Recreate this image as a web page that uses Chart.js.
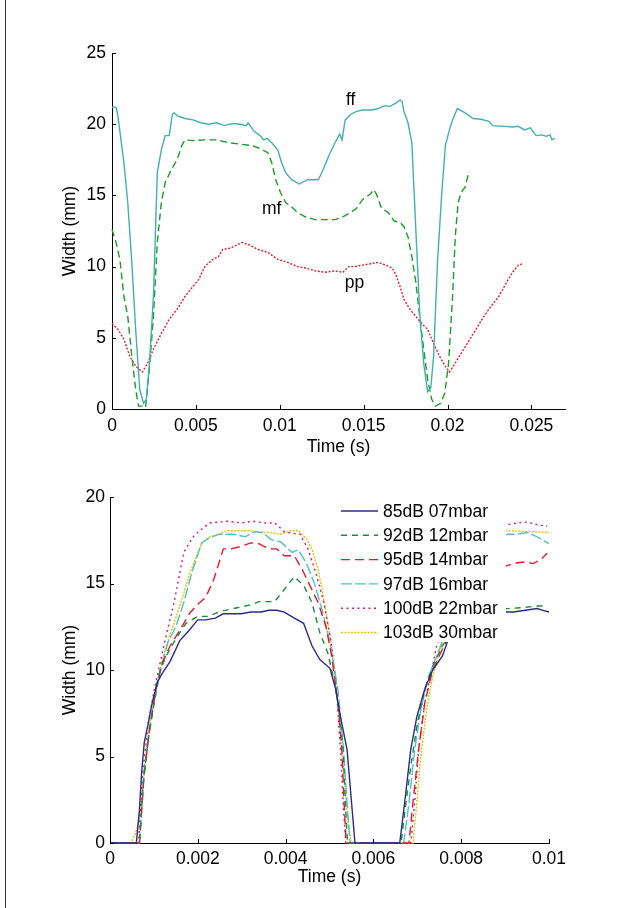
<!DOCTYPE html>
<html>
<head>
<meta charset="utf-8">
<script src="https://cdn.jsdelivr.net/npm/chart.js@4.4.1/dist/chart.umd.min.js"></script>
<style>
  html, body { margin: 0; padding: 0; background: #fff; }
  #page { position: relative; width: 619px; height: 908px; overflow: hidden; background: #fff; }
  #edge { position: absolute; left: 5px; top: 0; width: 1px; height: 908px; background: #333; }
  #topChart { position: absolute; left: 0; top: 0; }
  #bottomChart { position: absolute; left: 0; top: 460px; }
</style>
</head>
<body>
<div id="page">
  <div id="edge"></div>
  <canvas id="topChart" width="619" height="460"></canvas>
  <canvas id="bottomChart" width="619" height="448"></canvas>
</div>
<script>
// ---- top chart: [time (s), width (mm)] ----
const ffData = [[0,21.2],[0.00024,21.2],[0.00035,20.6],[0.00071,17.3],[0.00094,14.5],[0.00118,10.3],[0.00141,5.6],[0.00165,1.4],[0.00188,0.4],[0.00205,0.7],[0.00223,3.2],[0.00247,7.9],[0.00270,16.6],[0.00294,18.2],[0.00317,19.2],[0.00341,19.2],[0.00360,20.7],[0.00372,20.8],[0.00388,20.6],[0.00435,20.4],[0.00482,20.3],[0.00529,20.1],[0.00576,20.0],[0.00623,20.1],[0.00670,19.9],[0.00717,20.05],[0.00764,20.0],[0.00800,19.9],[0.00811,20.1],[0.00847,19.5],[0.00882,19.2],[0.00905,18.9],[0.00924,19.0],[0.00952,18.7],[0.00988,18.2],[0.01011,17.3],[0.01035,16.6],[0.01070,16.1],[0.01117,15.8],[0.01164,16.1],[0.01230,16.1],[0.01258,16.8],[0.01293,17.8],[0.01329,18.7],[0.01357,19.3],[0.01371,18.9],[0.01390,20.3],[0.01423,20.7],[0.01458,20.9],[0.01493,21.0],[0.01552,21.0],[0.01587,21.1],[0.01623,21.3],[0.01658,21.25],[0.01693,21.5],[0.01717,21.7],[0.01729,21.6],[0.01740,20.9],[0.01764,20.1],[0.01787,18.7],[0.01811,12.6],[0.01834,6.7],[0.01858,3.2],[0.01881,1.2],[0.01900,1.5],[0.01917,3.7],[0.01940,10.3],[0.01964,14.9],[0.01987,18.5],[0.02011,19.6],[0.02030,20.3],[0.02058,21.1],[0.02105,20.8],[0.02152,20.4],[0.02199,20.35],[0.02246,20.2],[0.02269,19.9],[0.02340,19.85],[0.02387,19.8],[0.02422,19.85],[0.02458,19.6],[0.02493,19.75],[0.02528,19.2],[0.02563,19.25],[0.02587,19.15],[0.02611,19.25],[0.02622,18.9],[0.02639,19.0]];
const mfData = [[0,12.6],[0.00024,11.7],[0.00047,10.5],[0.00071,7.9],[0.00094,6.5],[0.00118,3.7],[0.00141,1.4],[0.00158,0.2],[0.00181,0.2],[0.00200,0.1],[0.00219,2.3],[0.00247,6.5],[0.00270,11.7],[0.00294,14.5],[0.00317,15.9],[0.00353,16.8],[0.00388,17.5],[0.00416,18.5],[0.00435,18.9],[0.00482,18.85],[0.00553,18.9],[0.00623,18.9],[0.00694,18.7],[0.00764,18.6],[0.00835,18.5],[0.00882,18.3],[0.00929,18.0],[0.00952,17.3],[0.00976,16.1],[0.01004,15.2],[0.01035,14.5],[0.01070,14.2],[0.01105,13.8],[0.01152,13.5],[0.01211,13.3],[0.01282,13.3],[0.01329,13.3],[0.01376,13.5],[0.01423,13.8],[0.01458,14.1],[0.01493,14.7],[0.01540,15.1],[0.01559,15.4],[0.01576,15.1],[0.01606,14.1],[0.01646,13.8],[0.01682,13.2],[0.01717,13.1],[0.01740,12.8],[0.01764,12.1],[0.01787,10.7],[0.01811,8.9],[0.01834,6.5],[0.01858,4.2],[0.01881,2.1],[0.01905,0.7],[0.01928,0.2],[0.01959,0.4],[0.01983,1.1],[0.02006,3.2],[0.02030,7.9],[0.02046,12.1],[0.02063,14.5],[0.02081,15.2],[0.02105,15.6],[0.02128,16.7]];
const ppData = [[0,6.0],[0.00035,5.6],[0.00071,4.9],[0.00106,3.7],[0.00141,3.0],[0.00181,2.6],[0.00212,3.2],[0.00247,4.2],[0.00294,5.3],[0.00341,6.3],[0.00388,7.0],[0.00435,7.9],[0.00482,8.6],[0.00517,9.1],[0.00553,10.0],[0.00600,10.5],[0.00635,10.7],[0.00659,11.2],[0.00706,11.3],[0.00741,11.5],[0.00776,11.7],[0.00823,11.5],[0.00870,11.2],[0.00929,11.0],[0.00988,10.5],[0.01047,10.3],[0.01105,10.0],[0.01152,9.9],[0.01211,9.7],[0.01270,9.6],[0.01329,9.7],[0.01376,9.6],[0.01411,10.0],[0.01446,10.0],[0.01493,10.1],[0.01540,10.2],[0.01587,10.3],[0.01634,10.1],[0.01670,9.9],[0.01693,9.4],[0.01717,8.6],[0.01740,7.7],[0.01776,7.0],[0.01811,6.5],[0.01846,6.0],[0.01881,5.6],[0.01917,4.6],[0.01952,3.7],[0.01987,3.0],[0.02011,2.6],[0.02034,3.0],[0.02070,3.7],[0.02117,4.6],[0.02164,5.5],[0.02211,6.4],[0.02258,7.2],[0.02305,7.9],[0.02352,8.9],[0.02387,9.6],[0.02422,10.1],[0.02446,10.2]];
const topTicksX = [0, 0.005, 0.01, 0.015, 0.02, 0.025];
const topTicksY = [0, 5, 10, 15, 20, 25];
const topLabels = [['ff', 0.01423, 21.7], ['mf', 0.00952, 14.0], ['pp', 0.01446, 8.85]];

// ---- bottom chart ----
const db85 = [[0,0],[0.00060,0],[0.00067,1.9],[0.00072,4.05],[0.00078,5.8],[0.00087,6.9],[0.00096,8.1],[0.00108,9.3],[0.00119,9.8],[0.00137,10.5],[0.00159,11.7],[0.00177,12.2],[0.00200,12.9],[0.00218,12.9],[0.00240,13.0],[0.00258,13.25],[0.00299,13.25],[0.00321,13.35],[0.00344,13.35],[0.00362,13.45],[0.00380,13.45],[0.00397,13.35],[0.00420,13.0],[0.00441,12.7],[0.00460,11.4],[0.00478,10.6],[0.00501,10.1],[0.00514,8.9],[0.00525,7.3],[0.00540,5.4],[0.00549,2.7],[0.00558,0],[0.00660,0],[0.00672,2.5],[0.00685,5.4],[0.00699,7.3],[0.00717,8.9],[0.00735,10.0],[0.00757,10.8],[0.00771,11.8],[0.00793,12.5],[0.00829,13.0],[0.00865,13.3],[0.00906,13.35],[0.00919,13.35],[0.00946,13.45],[0.00973,13.55],[0.00986,13.45],[0.01,13.35]];
const db92 = [[0,0],[0.00067,0],[0.00076,3.5],[0.00087,6.0],[0.00101,8.1],[0.00114,10.0],[0.00132,11.0],[0.00150,11.8],[0.00173,12.7],[0.00200,13.1],[0.00222,13.1],[0.00254,13.4],[0.00290,13.6],[0.00326,13.8],[0.00339,13.95],[0.00375,13.95],[0.00397,14.65],[0.00420,15.4],[0.00442,14.85],[0.00460,13.9],[0.00478,12.15],[0.00496,11.0],[0.00510,9.45],[0.00522,7.7],[0.00531,5.4],[0.00537,1.9],[0.00541,0],[0.00663,0],[0.00672,1.9],[0.00685,4.4],[0.00699,6.75],[0.00717,8.9],[0.00735,10.2],[0.00757,11.4],[0.00793,12.6],[0.00829,13.2],[0.00865,13.5],[0.00906,13.55],[0.00937,13.6],[0.00973,13.7],[0.00986,13.7]];
const db95 = [[0,0],[0.00067,0],[0.00078,4.05],[0.00092,6.9],[0.00105,8.9],[0.00119,10.4],[0.00137,11.4],[0.00159,12.3],[0.00182,13.3],[0.00200,13.8],[0.00218,14.2],[0.00236,15.2],[0.00258,17.0],[0.00276,17.0],[0.00299,17.15],[0.00321,17.35],[0.00339,17.3],[0.00362,17.0],[0.00380,17.0],[0.00397,16.6],[0.00420,16.6],[0.00438,15.8],[0.00456,14.85],[0.00474,13.9],[0.00492,12.5],[0.00505,10.8],[0.00519,8.1],[0.00528,5.4],[0.00534,1.9],[0.00538,0],[0.00681,0],[0.00690,2.3],[0.00703,5.4],[0.00717,8.1],[0.00735,10.0],[0.00757,11.2],[0.00793,13.0],[0.00829,14.5],[0.00865,15.6],[0.00906,16.05],[0.00928,16.2],[0.00946,16.25],[0.00964,16.15],[0.00982,16.4],[0.00996,16.75]];
const db97 = [[0,0],[0.00067,0],[0.00078,4.25],[0.00092,6.9],[0.00105,9.1],[0.00119,10.4],[0.00132,11.6],[0.00150,12.5],[0.00168,13.9],[0.00186,15.6],[0.00209,17.35],[0.00227,17.65],[0.00249,17.85],[0.00281,17.85],[0.00308,17.7],[0.00330,18.0],[0.00348,17.95],[0.00366,17.55],[0.00389,17.4],[0.00415,16.8],[0.00429,16.95],[0.00447,16.2],[0.00465,15.05],[0.00483,13.5],[0.00501,11.6],[0.00519,8.9],[0.00532,5.4],[0.00541,1.9],[0.00547,0],[0.00669,0],[0.00681,2.3],[0.00694,5.4],[0.00708,7.7],[0.00726,9.65],[0.00744,10.8],[0.00762,12.0],[0.00793,14.5],[0.00829,16.5],[0.00865,17.5],[0.00906,17.85],[0.00928,17.85],[0.00951,17.95],[0.00973,17.7],[0.01,17.3]];
const db100 = [[0,0],[0.00065,0],[0.00074,3.9],[0.00087,6.9],[0.00101,8.9],[0.00114,10.4],[0.00128,12.0],[0.00146,13.9],[0.00168,16.8],[0.00191,17.75],[0.00209,18.15],[0.00227,18.5],[0.00267,18.6],[0.00299,18.5],[0.00326,18.6],[0.00353,18.5],[0.00375,18.5],[0.00397,18.0],[0.00415,17.9],[0.00433,17.85],[0.00451,17.0],[0.00469,15.6],[0.00487,13.9],[0.00504,11.6],[0.00516,8.9],[0.00525,5.4],[0.00532,1.9],[0.00537,0],[0.00685,0],[0.00694,2.3],[0.00703,5.4],[0.00717,8.1],[0.00730,9.65],[0.00744,11.4],[0.00753,12.0],[0.00793,15.5],[0.00829,17.5],[0.00865,18.3],[0.00906,18.4],[0.00928,18.5],[0.00951,18.55],[0.00973,18.4],[0.00996,18.3]];
const db103 = [[0,0],[0.00047,0],[0.00056,0.4],[0.00065,1.15],[0.00076,3.5],[0.00087,6.2],[0.00101,8.5],[0.00114,10.0],[0.00128,11.4],[0.00146,12.7],[0.00164,14.1],[0.00182,15.6],[0.00209,17.35],[0.00227,17.7],[0.00249,17.85],[0.00267,18.05],[0.00317,18.05],[0.00344,17.95],[0.00366,17.95],[0.00389,17.85],[0.00411,18.05],[0.00429,18.05],[0.00447,17.6],[0.00460,17.0],[0.00474,15.8],[0.00487,14.1],[0.00501,12.0],[0.00513,9.65],[0.00523,6.9],[0.00532,4.25],[0.00541,1.55],[0.00549,0],[0.00690,0],[0.00699,2.3],[0.00708,5.0],[0.00721,7.7],[0.00735,9.65],[0.00748,10.8],[0.00793,14.5],[0.00829,16.8],[0.00865,17.8],[0.00906,18.05],[0.00955,18.0],[0.01,17.95]];
const bottomNames = ['85dB 07mbar', '92dB 12mbar', '95dB 14mbar', '97dB 16mbar', '100dB 22mbar', '103dB 30mbar'];
const bottomTicksX = [0, 0.002, 0.004, 0.006, 0.008, 0.01];
const bottomTicksY = [0, 5, 10, 15, 20];

const FONT = { family: '"Liberation Sans", Arial, Helvetica, sans-serif', size: 17.5 };
const toPoints = pairs => pairs.map(([x, y]) => ({ x, y }));

function line(label, pairs, color, dash) {
  return {
    label, data: toPoints(pairs),
    borderColor: color, borderWidth: 1.4, borderDash: dash,
    pointRadius: 0, fill: false, tension: 0, clip: false
  };
}

// ticks that point into the plot, like the original
const inwardTicks = {
  id: 'inwardTicks',
  afterDraw(chart) {
    const { ctx, chartArea: a, scales: { x, y } } = chart;
    ctx.save();
    ctx.strokeStyle = '#000';
    ctx.lineWidth = 1;
    ctx.beginPath();
    x.ticks.forEach(t => {
      const px = Math.round(x.getPixelForValue(t.value)) + 0.5;
      ctx.moveTo(px, a.bottom); ctx.lineTo(px, a.bottom - 4);
    });
    y.ticks.forEach(t => {
      const py = Math.round(y.getPixelForValue(t.value)) + 0.5;
      ctx.moveTo(a.left, py); ctx.lineTo(a.left + 4, py);
    });
    ctx.stroke();
    ctx.restore();
  }
};

const curveLabels = {
  id: 'curveLabels',
  afterDatasetsDraw(chart) {
    const { ctx, scales: { x, y } } = chart;
    ctx.save();
    ctx.fillStyle = '#000';
    ctx.font = `${FONT.size}px ${FONT.family}`;
    ctx.textAlign = 'center';
    ctx.textBaseline = 'middle';
    topLabels.forEach(([txt, tx, ty]) => ctx.fillText(txt, x.getPixelForValue(tx), y.getPixelForValue(ty)));
    ctx.restore();
  }
};

// legend sits on a white box inside the plot and hides the curves behind it
const boxLegend = {
  id: 'boxLegend',
  afterDatasetsDraw(chart) {
    const { ctx, chartArea: a } = chart;
    const left = a.left + 228, right = a.left + 396;
    const top = a.top - 2, bottom = a.top + 145;
    ctx.save();
    ctx.fillStyle = '#fff';
    ctx.fillRect(left, top, right - left, bottom - top);
    ctx.font = `${FONT.size}px ${FONT.family}`;
    ctx.textBaseline = 'middle';
    chart.data.datasets.forEach((ds, i) => {
      const yy = a.top + 14 + i * 24.3;
      ctx.strokeStyle = ds.borderColor;
      ctx.lineWidth = ds.borderWidth;
      ctx.setLineDash(ds.borderDash || []);
      ctx.beginPath();
      ctx.moveTo(a.left + 231, yy); ctx.lineTo(a.left + 268, yy);
      ctx.stroke();
      ctx.setLineDash([]);
      ctx.fillStyle = '#000';
      ctx.fillText(ds.label, a.left + 273, yy + 1);
    });
    ctx.restore();
  }
};

function makeChart(id, datasets, cfg, extra) {
  return new Chart(document.getElementById(id), {
    type: 'line',
    data: { datasets },
    options: {
      responsive: false,
      animation: false,
      devicePixelRatio: 1,
      layout: { padding: cfg.padding },
      plugins: { legend: { display: false }, tooltip: { enabled: false } },
      scales: {
        x: {
          type: 'linear', min: cfg.xMin, max: cfg.xMax,
          grid: { display: false, drawTicks: false },
          border: { display: true, color: '#000', width: 1 },
          ticks: { color: '#000', font: FONT, padding: cfg.xLabelPad, maxRotation: 0, autoSkip: false, callback: v => String(v) },
          afterBuildTicks: s => { s.ticks = cfg.xTicks.map(v => ({ value: v })); },
          afterFit: s => { s.height = cfg.xHeight; },
          title: { display: true, text: 'Time (s)', color: '#000', font: FONT, padding: { top: 0, bottom: cfg.xTitlePad } }
        },
        y: {
          type: 'linear', min: cfg.yMin, max: cfg.yMax,
          grid: { display: false, drawTicks: false },
          border: { display: true, color: '#000', width: 1 },
          ticks: { color: '#000', font: FONT, padding: cfg.yLabelPad, autoSkip: false, callback: v => String(v) },
          afterBuildTicks: s => { s.ticks = cfg.yTicks.map(v => ({ value: v })); },
          afterFit: s => { s.width = cfg.yWidth; },
          title: { display: true, text: 'Width (mm)', color: '#000', font: FONT, padding: { top: 60, bottom: 0 } }
        }
      }
    },
    plugins: [inwardTicks].concat(extra)
  });
}

makeChart('topChart', [
  line('ff', ffData, '#43b0b0', []),
  line('mf', mfData, '#1c9c2a', [7, 4]),
  line('pp', ppData, '#e3202f', [2, 1.6])
], {
  padding: { left: 0, top: 53, right: 54, bottom: 0 },
  xMin: 0, xMax: 0.027, yMin: 0, yMax: 25,
  xTicks: topTicksX, yTicks: topTicksY,
  xHeight: 51, yWidth: 112, xLabelPad: 7, yLabelPad: 6, xTitlePad: 2
}, [curveLabels]);

makeChart('bottomChart', [
  line(bottomNames[0], db85, '#2b2b88', []),
  line(bottomNames[1], db92, '#178f3a', [6, 5]),
  line(bottomNames[2], db95, '#e6192c', [9, 5]),
  line(bottomNames[3], db97, '#4fc3c8', [11, 3]),
  line(bottomNames[4], db100, '#cc1c8e', [2, 3.5]),
  line(bottomNames[5], db103, '#e5c400', [2, 1.3])
], {
  padding: { left: 0, top: 37, right: 70, bottom: 0 },
  xMin: 0, xMax: 0.01, yMin: 0, yMax: 20,
  xTicks: bottomTicksX, yTicks: bottomTicksY,
  xHeight: 65, yWidth: 110, xLabelPad: 6, yLabelPad: 5, xTitlePad: 20
}, [boxLegend]);
</script>
</body>
</html>
